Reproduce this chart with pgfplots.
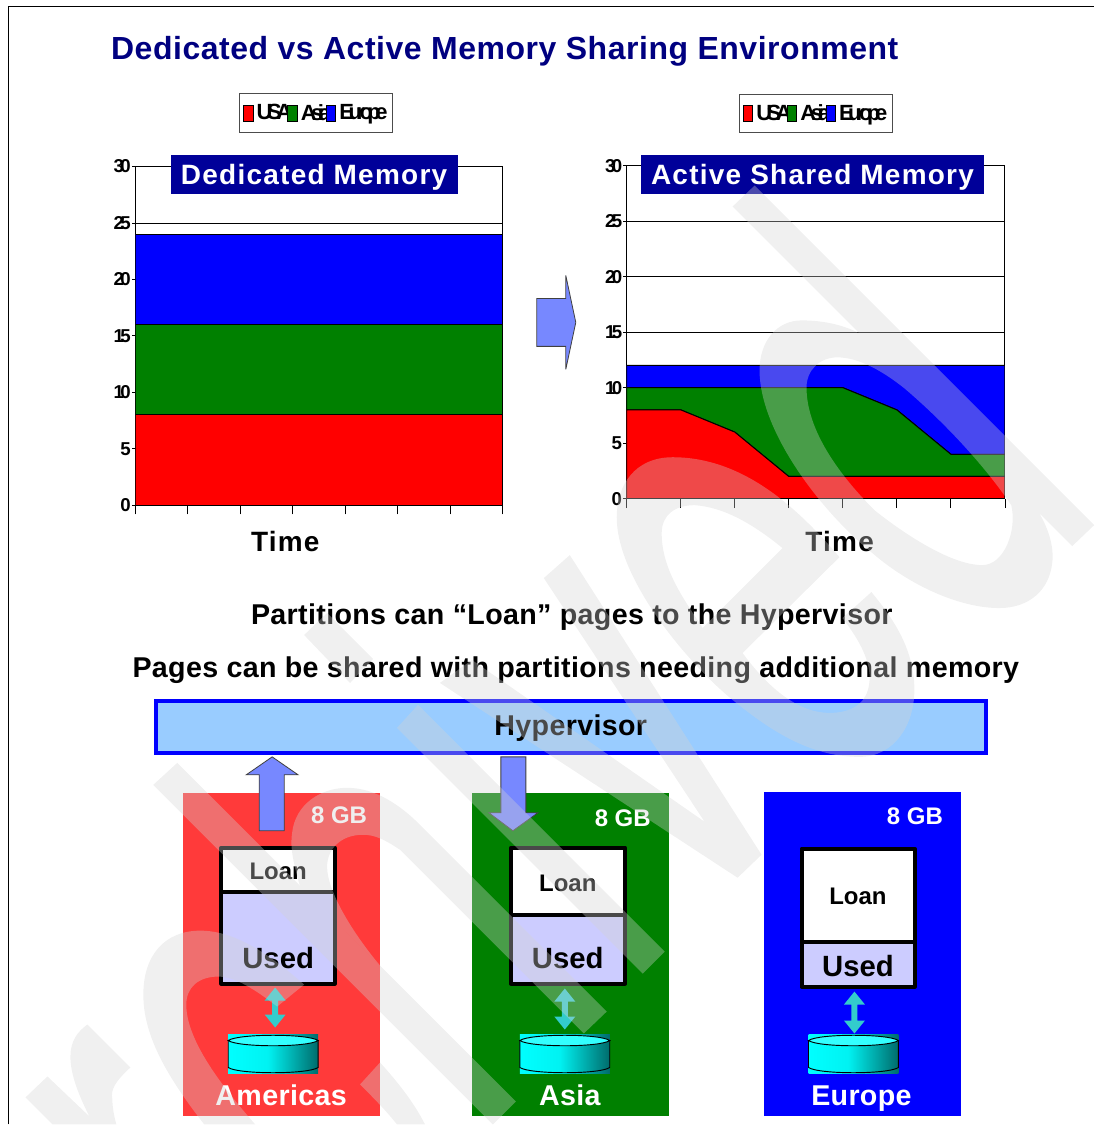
\documentclass[border=0pt]{standalone}
\usepackage{fontspec}
\usepackage{pgfplots}
\pgfplotsset{compat=1.18}
\setmainfont{Liberation Sans}
\newfontfamily\squeezed{Liberation Sans}[LetterSpace=-20]
\newfontfamily\legendfont{Liberation Sans}[LetterSpace=-25]
\newfontfamily\spaced{Liberation Sans}[LetterSpace=4.5]
\newfontfamily\titlefont{Liberation Sans}[LetterSpace=1.7]
\newfontfamily\bodyfont{Liberation Sans}[LetterSpace=1.2]
\newcommand\fs[1]{\fontsize{#1}{#1}\selectfont}
\definecolor{navy}{RGB}{0,0,128}
\definecolor{labelblue}{RGB}{0,0,153}
\definecolor{arrowblue}{RGB}{119,136,255}
\definecolor{hyper}{RGB}{153,204,255}
\definecolor{lightred}{RGB}{255,58,58}
\definecolor{usedfill}{RGB}{204,204,255}
\definecolor{teal2}{RGB}{51,204,204}
\definecolor{cyltop}{RGB}{51,255,255}
\definecolor{usa}{RGB}{255,0,0}
\definecolor{asia}{RGB}{0,128,0}
\definecolor{europe}{RGB}{0,0,255}
\pgfdeclarehorizontalshading{cyl}{100bp}{rgb(0bp)=(0,1,1);rgb(25bp)=(0,1,1);rgb(47bp)=(0,.95,.95);rgb(75bp)=(0,.42,.42);rgb(100bp)=(0,.42,.42)}

\pgfplotsset{memchart/.style={
 scale only axis,xmin=0,xmax=7,ymin=0,ymax=30,
 stack plots=y,
 xtick={0,...,7},xticklabels={},
 ytick={0,5,...,30},yticklabels={0,5,10,15,20,25,30},
 tick pos=left,tick align=outside,
 axis line style={black,line width=.75pt},
 xtick style={black,line width=.6pt,/pgfplots/major tick length=7pt},
 ytick style={black,line width=.6pt,/pgfplots/major tick length=2.5pt},
 yticklabel style={font=\squeezed\bfseries\fs{14},inner sep=.5pt,xshift=1.5pt},
 ymajorgrids,grid style={black,line width=.6pt},
 xlabel style={font=\spaced\bfseries\fs{21},anchor=center},
 legend columns=3,
 legend cell align=left,
 legend style={anchor=center,draw=black!70,line width=.75pt,font=\legendfont\bfseries\fs{16.5},
   inner xsep=3pt,inner ysep=6.7pt,
   /tikz/every even column/.style={column sep=-4.5pt},
   /tikz/every odd column/.style={column sep=1.5pt},
   nodes={inner sep=1pt}},
 legend image code/.code={\path[##1,draw=black,line width=.5pt] (0pt,-6pt) rectangle (7pt,6pt);},
 every axis plot/.append style={draw=black,line width=.75pt},
}}

\begin{document}
\begin{tikzpicture}
\begin{scope}[x=.75pt,y=-.75pt]
 \path[use as bounding box] (-.5,-.8) rectangle (1094.5,1124.2);
 \coordinate (leftO) at (135,505);
 \coordinate (rightO) at (627,498.5);
\end{scope}

% left chart
\begin{axis}[memchart,at={(leftO)},anchor=south west,width=276pt,height=254.25pt,
 xlabel={Time},xlabel style={at={(rel axis cs:.408,-.106)}},
 legend style={at={(rel axis cs:.492,1.158)}}]
\addplot[fill=usa] coordinates {(0,8) (1,8) (2,8) (3,8) (4,8) (5,8) (6,8) (7,8)} \closedcycle;
\addplot[fill=asia] coordinates {(0,8) (1,8) (2,8) (3,8) (4,8) (5,8) (6,8) (7,8)} \closedcycle;
\addplot[fill=europe] coordinates {(0,8) (1,8) (2,8) (3,8) (4,8) (5,8) (6,8) (7,8)} \closedcycle;
\legend{USA,Asia,Europe\hspace{-11.5pt}}
\end{axis}

% right chart
\begin{axis}[memchart,at={(rightO)},anchor=south west,width=284pt,height=250.1pt,
 xlabel={Time},xlabel style={at={(rel axis cs:.563,-.13)}},
 legend style={at={(rel axis cs:.5,1.156)}}]
\addplot[fill=usa] coordinates {(0,8) (1,8) (2,6) (3,2) (4,2) (5,2) (6,2) (7,2)} \closedcycle;
\addplot[fill=asia] coordinates {(0,2) (1,2) (2,4) (3,8) (4,8) (5,6) (6,2) (7,2)} \closedcycle;
\addplot[fill=europe] coordinates {(0,2) (1,2) (2,2) (3,2) (4,2) (5,4) (6,8) (7,8)} \closedcycle;
\legend{USA,Asia,Europe\hspace{-11.5pt}}
\end{axis}

\begin{scope}[x=.75pt,y=-.75pt]
 % page frame
 \draw[black,line width=.9pt] (8,1125) -- (8,5.5) -- (1095,5.5);
 \node[anchor=base west,inner sep=0,text=navy,font=\titlefont\bfseries\fs{24}] at (110.5,59) {Dedicated vs Active Memory Sharing Environment};

 % chart captions
 \fill[labelblue] (171,154.5) rectangle (458,193.5);
 \fill[labelblue] (641,154.5) rectangle (985,193.5);
 \node[anchor=base,text=white,font=\spaced\bfseries\fs{21},inner sep=0] at (314,183.5) {Dedicated Memory};
 \node[anchor=base,text=white,font=\spaced\bfseries\fs{21},inner sep=0] at (813,183.5) {Active Shared Memory};

 % block arrow between the charts
 \draw[fill=arrowblue,draw=black!75,line width=.6pt,miter limit=2] (537,298) -- (566,298) -- (566,275) -- (576,322) -- (566,369) -- (566,346) -- (537,346) -- cycle;

 \node[anchor=base,inner sep=0,font=\bodyfont\bfseries\fs{21.5}] at (572,624.5) {Partitions can “Loan” pages to the Hypervisor};
 \node[anchor=base,inner sep=0,font=\bodyfont\bfseries\fs{21.5}] at (576,678) {Pages can be shared with partitions needing additional memory};

 % hypervisor bar
 \draw[fill=hyper,draw=blue,line width=3pt] (155.5,701) rectangle (986.5,753);
 \node[anchor=base,font=\bodyfont\bfseries\fs{21.5},inner sep=0] at (571,736) {Hypervisor};

 % region boxes
 \fill[lightred] (183,793) rectangle (380,1116.7);
 \fill[asia] (472,793) rectangle (669,1116.7);
 \fill[europe] (764,792) rectangle (961.5,1116.7);

 % loan arrows
 \draw[fill=arrowblue,draw=black!75,line width=.6pt] (272,757) -- (298,775) -- (284,775) -- (284,831) -- (259,831) -- (259,775) -- (246,775) -- cycle;
 \draw[fill=arrowblue,draw=black!75,line width=.6pt] (513,831) -- (538,813) -- (526,813) -- (526,757) -- (501,757) -- (501,813) -- (489,813) -- cycle;

 \newcommand\memstack[8]{%
  % left, right, top, divider, bottom, x of text, y of loan, y of used
  \fill[white] (#1,#3) rectangle (#2,#4);
  \fill[usedfill] (#1,#4) rectangle (#2,#5);
  \draw[black,line width=3pt,line join=round] (#1,#3) rectangle (#2,#5);
  \draw[black,line width=3pt] (#1,#4) -- (#2,#4);
  \node[anchor=base,font=\bfseries\fs{18},inner sep=0] at (#6,#7) {Loan};
  \node[anchor=base,font=\bfseries\fs{22},inner sep=0] at (#6,#8) {Used};
 }
 \memstack{221}{334.5}{848}{892}{984}{278}{880}{969}
 \memstack{511}{625.5}{848}{915}{984}{568}{892}{969}
 \memstack{802}{915.5}{849}{942}{987}{858.5}{905}{977}

 \node[anchor=base,text=white,font=\bfseries\fs{18},inner sep=0] at (339,824) {8 GB};
 \node[anchor=base,text=white,font=\bfseries\fs{18},inner sep=0] at (623,827) {8 GB};
 \node[anchor=base,text=white,font=\bfseries\fs{18},inner sep=0] at (915.5,825) {8 GB};

 \newcommand\dblarrow[3]{%
  \fill[teal2] (#1,#2) -- ++(10.5,13) -- ++(-7.5,0) -- (#1+3,#3-13) -- ++(7.5,0) -- (#1,#3)
     -- (#1-10.5,#3-13) -- ++(7.5,0) -- (#1-3,#2+13) -- ++(-7.5,0) -- cycle;
 }
 \dblarrow{275}{988}{1028}
 \dblarrow{565}{989}{1030}
 \dblarrow{855}{992}{1034}

 \newcommand\cylinder[1]{%
  \begin{scope}[shift={(#1,0)}]
   \shade[shading=cyl] (0,1035) rectangle (90,1074);
   \draw[shading=cyl,draw=black,line width=.7pt] (0,1041) -- (0,1068) .. controls (10,1075) and (80,1075) .. (90,1068) -- (90,1041) -- cycle;
   \draw[fill=cyltop,draw=black,line width=.7pt] (0,1041) .. controls (10,1034) and (80,1034) .. (90,1041) .. controls (80,1048) and (10,1048) .. (0,1041) -- cycle;
  \end{scope}
 }
 \cylinder{228}
 \cylinder{520}
 \cylinder{809}

 \node[anchor=base,text=white,font=\bodyfont\bfseries\fs{21.5},inner sep=0] at (281,1106) {Americas};
 \node[anchor=base,text=white,font=\bodyfont\bfseries\fs{21.5},inner sep=0] at (570,1106) {Asia};
 \node[anchor=base,text=white,font=\bodyfont\bfseries\fs{21.5},inner sep=0] at (862,1106) {Europe};

 % the "Archived" watermark goes over everything
 \begin{scope}[transparency group,opacity=.35]
  \clip (0,0) rectangle (1095,1125);
  \fill[black!17] (87,1025) -- (130,1068) .. controls (115,1082) and (110,1090) .. (112,1100) .. controls (112,1108) and (114,1118) .. (116,1125) -- (52,1125) -- (25,1098) -- (47,1077) -- (89,1117) .. controls (78,1095) and (70,1075) .. (70,1057) .. controls (70,1042) and (77,1032) .. (87,1025) -- cycle;
  % c
  \fill[black!17] (204,1125) .. controls (165,1075) and (143,1035) .. (143,995) .. controls (143,955) and (165,931) .. (200,931) .. controls (235,931) and (270,955) .. (304,985) -- (277,1007) .. controls (255,990) and (235,977) .. (218,977) .. controls (198,977) and (186,988) .. (186,1005) .. controls (186,1040) and (220,1085) .. (255,1125) -- cycle;
  \fill[black!17] (360,1085) -- (380,1063) .. controls (400,1085) and (415,1105) .. (425,1125) -- (397,1125) .. controls (385,1110) and (372,1097) .. (360,1085) -- cycle;
  % h
  \fill[black!17] (153,785) -- (177,763) -- (516,1102) -- (493,1125) -- cycle;
  \fill[black!17] (300,887) .. controls (292,860) and (290,845) .. (292,833) .. controls (295,805) and (320,788) .. (347,788) .. controls (375,788) and (400,805) .. (420,825) -- (607,1012) -- (584,1034) -- (400,850) .. controls (385,840) and (375,835) .. (363,835) .. controls (340,835) and (327,850) .. (327,867) .. controls (327,890) and (350,930) .. (380,966) -- cycle;
  % i
  \fill[black!17] (304,635) -- (327,613) -- (373,659) -- (350,683) -- cycle;
  \fill[black!17] (397,728) -- (418,705) -- (665,952) -- (643,974) -- cycle;
  % v
  \fill[black!17] (570,555) -- (762,855) -- (738,878) -- (440,683) -- (472,660) -- (705,822) -- (544,578) -- cycle;
  % e
  \fill[black!17,even odd rule] (840,557) .. controls (800,510) and (745,457) .. (673,457) .. controls (635,457) and (617,485) .. (617,517) .. controls (617,580) and (690,665) .. (733,700) .. controls (770,730) and (810,757) .. (860,757) .. controls (895,757) and (915,725) .. (915,690) .. controls (915,650) and (895,620) .. (872,592) -- (843,618) .. controls (860,640) and (872,662) .. (870,682) .. controls (868,705) and (850,713) .. (830,713) .. controls (800,713) and (770,690) .. (743,653) -- cycle
   (783,548) .. controls (755,525) and (725,507) .. (695,505) .. controls (675,505) and (662,515) .. (662,533) .. controls (662,570) and (685,600) .. (703,628) -- cycle;
  % d
  \fill[black!17,even odd rule] (733,206) -- (755,185) -- (1095,525) -- (1073,546) -- (1040,513) .. controls (1050,530) and (1055,548) .. (1053,563) .. controls (1050,590) and (1030,608) .. (1000,608) .. controls (960,608) and (910,585) .. (873,553) .. controls (820,510) and (760,430) .. (760,370) .. controls (760,340) and (778,320) .. (802,320) .. controls (825,320) and (845,325) .. (860,333) -- cycle
   (838,357) .. controls (860,357) and (885,372) .. (905,388) .. controls (945,422) and (985,465) .. (1012,505) .. controls (1018,530) and (1005,565) .. (983,565) .. controls (950,565) and (900,530) .. (875,510) .. controls (840,475) and (807,430) .. (807,387) .. controls (807,370) and (820,357) .. (838,357) -- cycle;
 \end{scope}
\end{scope}
\end{tikzpicture}
\end{document}
